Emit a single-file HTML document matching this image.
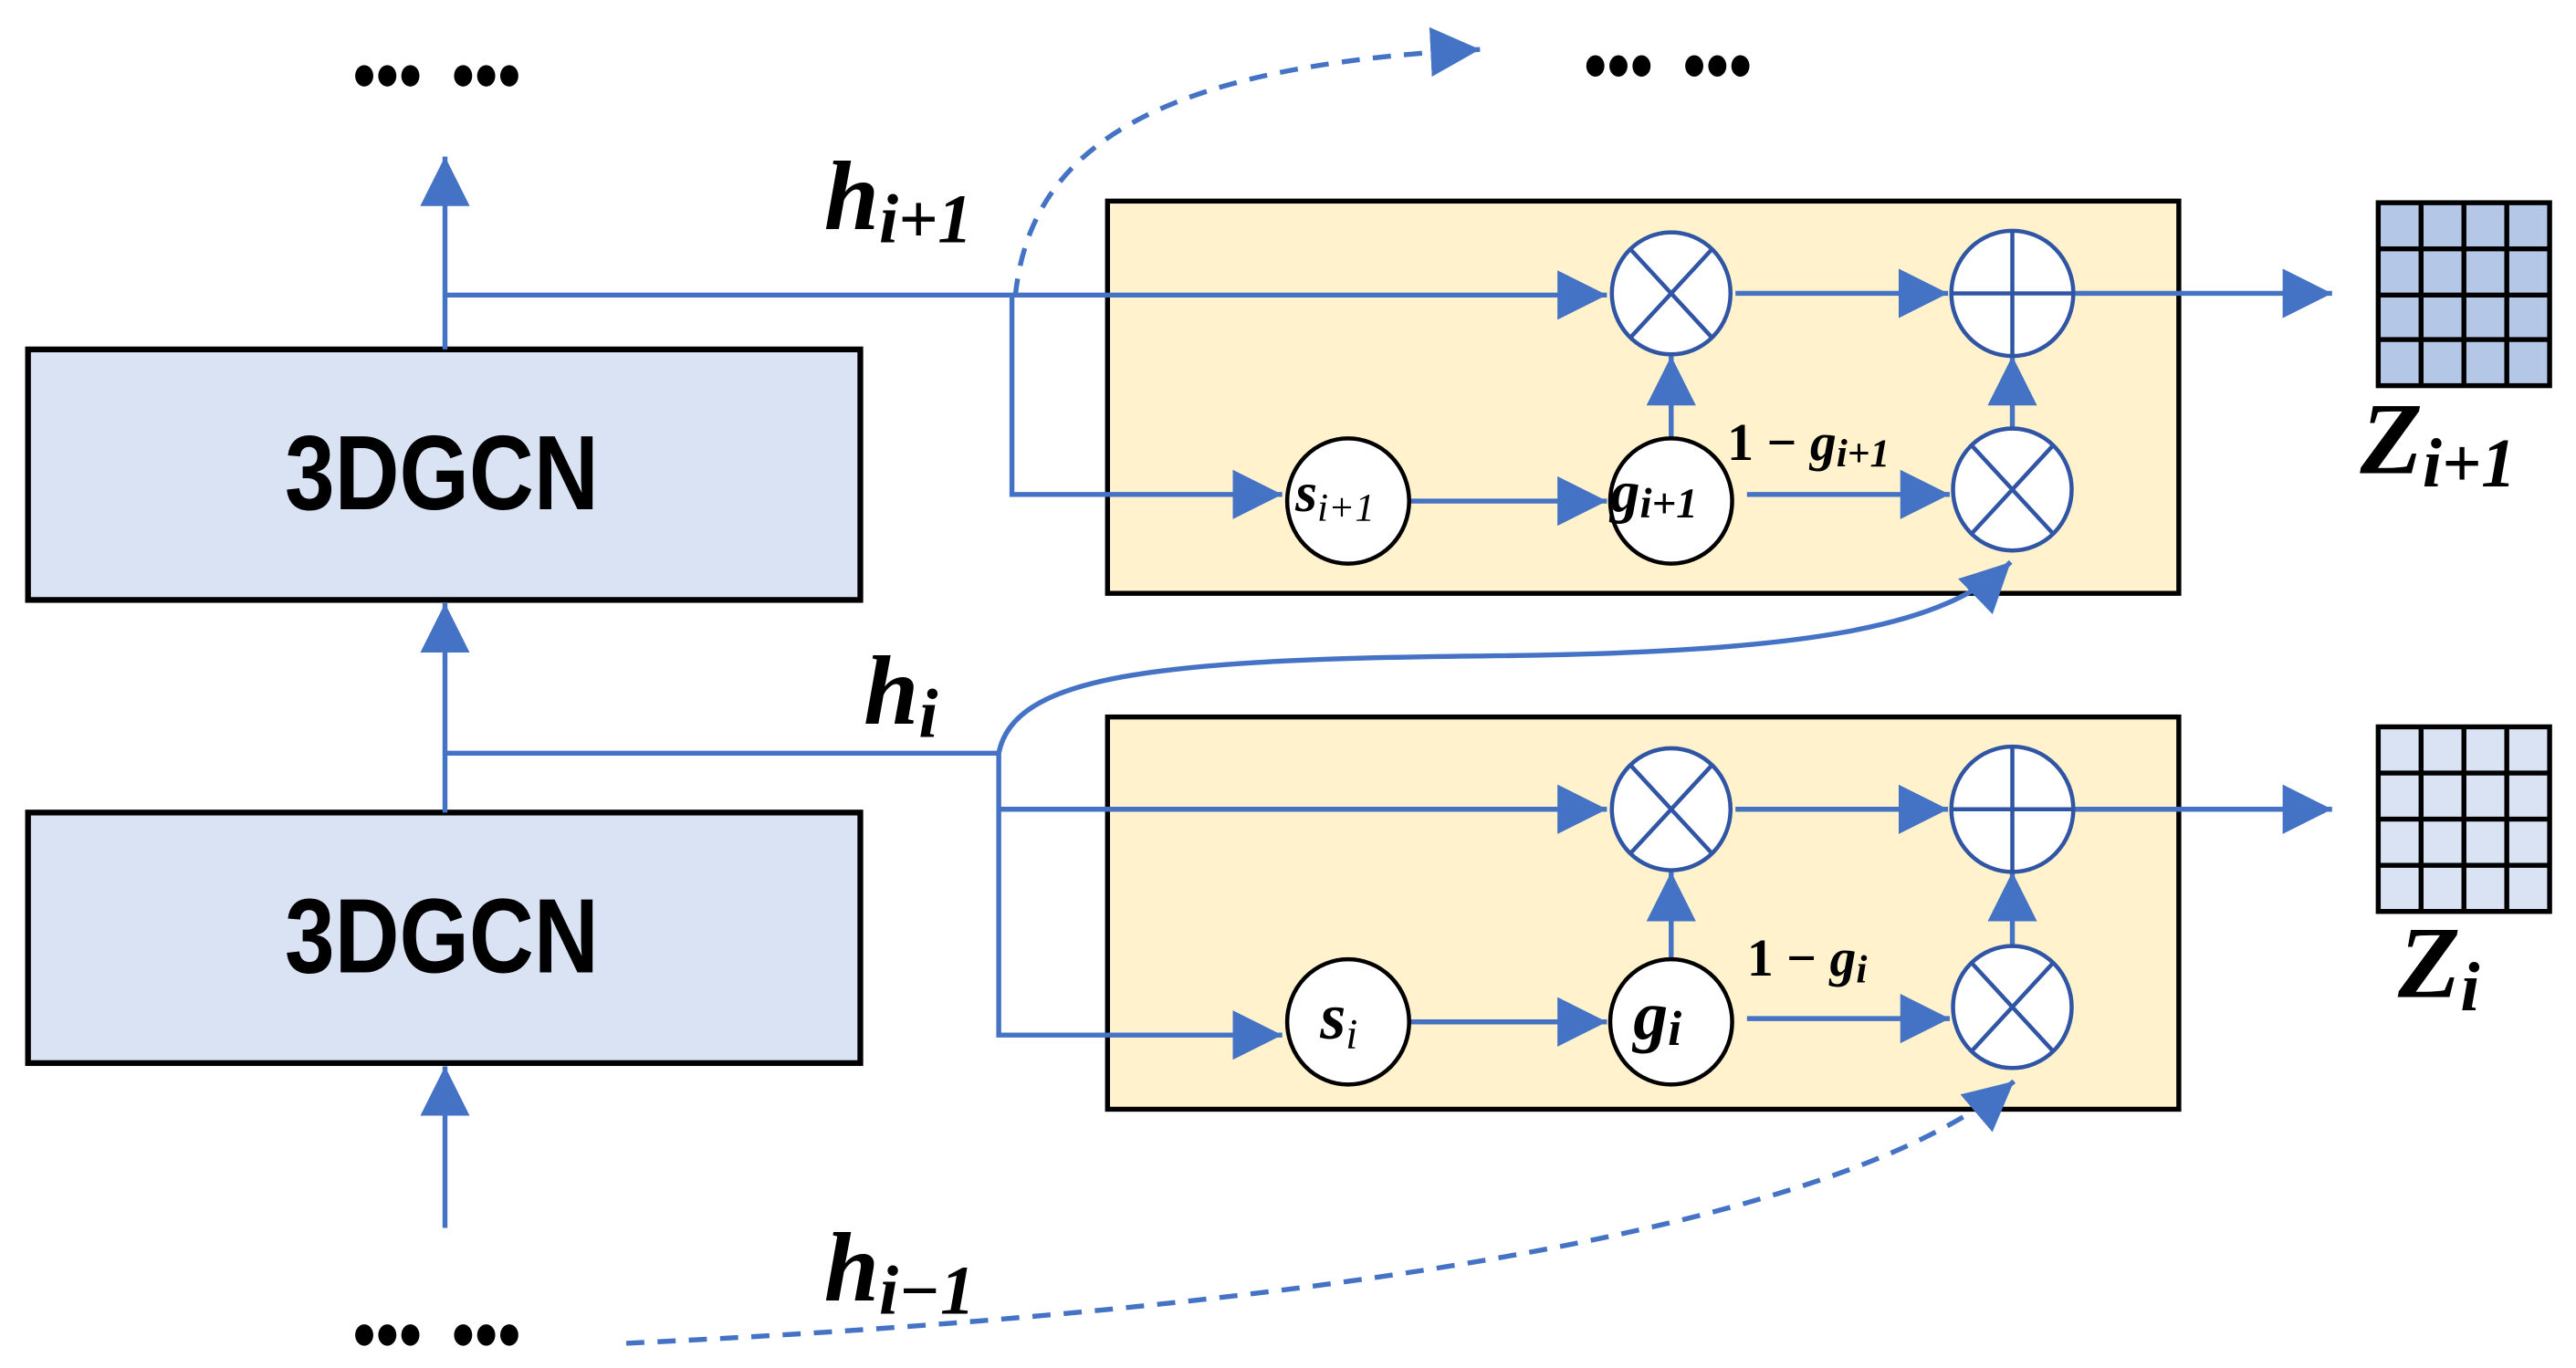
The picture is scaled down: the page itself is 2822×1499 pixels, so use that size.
<!DOCTYPE html>
<html><head><meta charset="utf-8"><style>
html,body{margin:0;padding:0;background:#fff;width:2822px;height:1499px;overflow:hidden}
svg{display:block}
.m{font-family:"Liberation Serif",serif;font-weight:bold;font-style:italic}
</style></head><body>
<svg width="2822" height="1499" viewBox="0 0 1563 830" preserveAspectRatio="none" xmlns="http://www.w3.org/2000/svg">
<defs>
<marker id="a" viewBox="0 0 10 10" refX="10" refY="5" markerWidth="30" markerHeight="30" markerUnits="userSpaceOnUse" orient="auto"><path d="M0,0 L10,5 L0,10 z" fill="#4472c4"/></marker>
<g id="d"><ellipse cx="0" cy="0" rx="5.5" ry="6.5"/><ellipse cx="14" cy="0" rx="5.5" ry="6.5"/><ellipse cx="28" cy="0" rx="5.5" ry="6.5"/><ellipse cx="60" cy="0" rx="5.5" ry="6.5"/><ellipse cx="74" cy="0" rx="5.5" ry="6.5"/><ellipse cx="88" cy="0" rx="5.5" ry="6.5"/></g>
</defs>
<g stroke="#4472c4" stroke-width="3" fill="none">
<rect x="672" y="122" width="650" height="238" fill="#fff2cc" stroke="#000"/>
<rect x="672" y="435" width="650" height="238" fill="#fff2cc" stroke="#000"/>
<rect x="17" y="212" width="505" height="152" fill="#dae3f3" stroke="#000" stroke-width="3.5"/>
<rect x="17" y="493" width="505" height="152" fill="#dae3f3" stroke="#000" stroke-width="3.5"/>
<line x1="270" y1="212" x2="270" y2="95" marker-end="url(#a)"/>
<line x1="270" y1="493" x2="270" y2="366" marker-end="url(#a)"/>
<line x1="270" y1="745" x2="270" y2="647" marker-end="url(#a)"/>
<line x1="270" y1="179" x2="975" y2="179" marker-end="url(#a)"/>
<polyline points="614,179 614,300 778,300" marker-end="url(#a)"/>
<path d="M616,180 C625,90 700,40 898,30" stroke-dasharray="11,8" marker-end="url(#a)"/>
<line x1="1053" y1="178" x2="1182" y2="178" marker-end="url(#a)"/>
<line x1="1258" y1="178" x2="1415" y2="178" marker-end="url(#a)"/>
<line x1="856" y1="304" x2="975" y2="304" marker-end="url(#a)"/>
<line x1="1060" y1="300" x2="1183" y2="300" marker-end="url(#a)"/>
<line x1="1014" y1="268" x2="1014" y2="216" marker-end="url(#a)"/>
<line x1="1221" y1="260" x2="1221" y2="216" marker-end="url(#a)"/>
<line x1="270" y1="457" x2="606" y2="457"/>
<polyline points="606,457 606,628 778,628" marker-end="url(#a)"/>
<line x1="606" y1="491" x2="975" y2="491" marker-end="url(#a)"/>
<path d="M606,457 C615,410 700,400 900,398 C1100,396 1180,380 1220,341" marker-end="url(#a)"/>
<line x1="1053" y1="491" x2="1182" y2="491" marker-end="url(#a)"/>
<line x1="1258" y1="491" x2="1415" y2="491" marker-end="url(#a)"/>
<line x1="856" y1="620" x2="975" y2="620" marker-end="url(#a)"/>
<line x1="1060" y1="618" x2="1183" y2="618" marker-end="url(#a)"/>
<line x1="1014" y1="582" x2="1014" y2="529" marker-end="url(#a)"/>
<line x1="1221" y1="573" x2="1221" y2="529" marker-end="url(#a)"/>
<path d="M380,815 C700,800 1100,760 1222,656" stroke-dasharray="11,8" marker-end="url(#a)"/>
</g>
<g stroke="#2f55a4" stroke-width="2.5" fill="#fff">
<g transform="translate(1014,178)"><ellipse rx="36" ry="37"/><line x1="-24" y1="-26" x2="24" y2="26"/><line x1="24" y1="-26" x2="-24" y2="26"/></g>
<g transform="translate(1221,178)"><ellipse rx="37" ry="38"/><line x1="-37" y1="0" x2="37" y2="0"/><line x1="0" y1="-38" x2="0" y2="38"/></g>
<g transform="translate(1221,297)"><ellipse rx="36" ry="37"/><line x1="-24" y1="-26" x2="24" y2="26"/><line x1="24" y1="-26" x2="-24" y2="26"/></g>
<g transform="translate(1014,491)"><ellipse rx="36" ry="37"/><line x1="-24" y1="-26" x2="24" y2="26"/><line x1="24" y1="-26" x2="-24" y2="26"/></g>
<g transform="translate(1221,491)"><ellipse rx="37" ry="38"/><line x1="-37" y1="0" x2="37" y2="0"/><line x1="0" y1="-38" x2="0" y2="38"/></g>
<g transform="translate(1221,611)"><ellipse rx="36" ry="37"/><line x1="-24" y1="-26" x2="24" y2="26"/><line x1="24" y1="-26" x2="-24" y2="26"/></g>
</g>
<g stroke="#000" stroke-width="2.5" fill="#fff">
<ellipse cx="818" cy="304" rx="37" ry="38"/>
<ellipse cx="1014" cy="304" rx="37" ry="38"/>
<ellipse cx="818" cy="620" rx="37" ry="38"/>
<ellipse cx="1014" cy="620" rx="37" ry="38"/>
</g>
<g stroke="#000" stroke-width="3">
<rect x="1443" y="123" width="104" height="111" fill="#b4c7e7"/>
<rect x="1443" y="441" width="104" height="112" fill="#dae3f3"/>
<line x1="1469" y1="123" x2="1469" y2="234"/><line x1="1495" y1="123" x2="1495" y2="234"/><line x1="1521" y1="123" x2="1521" y2="234"/>
<line x1="1443" y1="151" x2="1547" y2="151"/><line x1="1443" y1="179" x2="1547" y2="179"/><line x1="1443" y1="206" x2="1547" y2="206"/>
<line x1="1469" y1="441" x2="1469" y2="553"/><line x1="1495" y1="441" x2="1495" y2="553"/><line x1="1521" y1="441" x2="1521" y2="553"/>
<line x1="1443" y1="469" x2="1547" y2="469"/><line x1="1443" y1="497" x2="1547" y2="497"/><line x1="1443" y1="525" x2="1547" y2="525"/>
</g>
<g fill="#000">
<use href="#d" x="221" y="46"/>
<use href="#d" x="968" y="40"/>
<use href="#d" x="221" y="810"/>
</g>
<g font-family="Liberation Sans,sans-serif" font-weight="bold" text-anchor="middle">
<text transform="translate(268,309) scale(0.85,1)" font-size="64">3DGCN</text>
<text transform="translate(268,590) scale(0.85,1)" font-size="64">3DGCN</text>
</g>
<g class="m">
<text x="500" y="139" font-size="60">h<tspan font-size="42" dy="8">i+1</tspan></text>
<text x="524" y="439" font-size="60">h<tspan font-size="42" dy="8">i</tspan></text>
<text x="500" y="789" font-size="60">h<tspan font-size="42" dy="8">i−1</tspan></text>
<text x="1432" y="287" font-size="62">Z<tspan font-size="42" dy="8">i+1</tspan></text>
<text x="1455" y="605" font-size="62">Z<tspan font-size="42" dy="8">i</tspan></text>
<text x="1048" y="279" font-size="32"><tspan font-style="normal">1 − </tspan>g<tspan font-size="24" dy="4">i+1</tspan></text>
<text x="1060" y="592" font-size="32"><tspan font-style="normal">1 − </tspan>g<tspan font-size="24" dy="4">i</tspan></text>
<text x="786" y="310" font-size="34">s<tspan font-size="24" font-weight="normal" dy="6">i+1</tspan></text>
<text x="977" y="310" font-size="36">g<tspan font-size="26" dy="4">i+1</tspan></text>
<text x="801" y="630" font-size="40">s<tspan font-size="26" font-weight="normal" dy="6">i</tspan></text>
<text x="991" y="630" font-size="42">g<tspan font-size="30" dy="4">i</tspan></text>
</g>
</svg>
</body></html>
